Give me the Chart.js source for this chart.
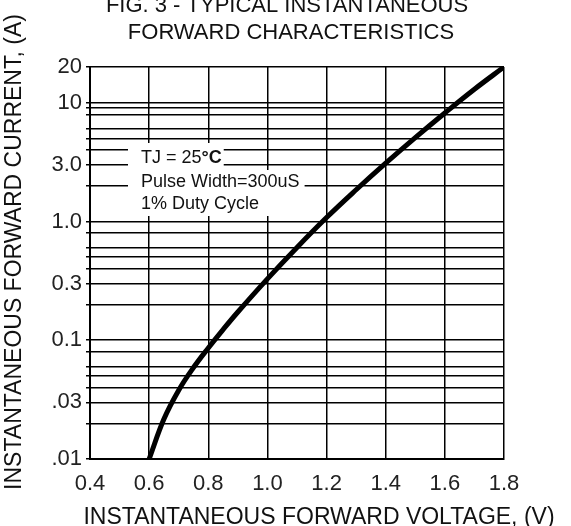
<!DOCTYPE html>
<html>
<head>
<meta charset="utf-8">
<script src="https://cdn.jsdelivr.net/npm/chart.js@4.4.1/dist/chart.umd.min.js"></script>
<style>
  html, body { margin: 0; padding: 0; background: #fff; }
  #wrap { width: 571px; height: 526px; }
</style>
</head>
<body>
<div id="wrap"><canvas id="myChart"></canvas></div>
<script>
// forward voltage (V) vs instantaneous forward current (A)
var voltage = [0.6, 0.65, 0.7, 0.75, 0.8, 0.85, 0.9, 1.0, 1.1, 1.2, 1.3, 1.4, 1.5, 1.6, 1.7, 1.8];
var current = [0.01, 0.0217, 0.038, 0.0589, 0.0861, 0.123, 0.173, 0.329, 0.605, 1.08, 1.85, 3.1, 5.09, 8.2, 13.0, 20];

var xTicks = [0.4, 0.6, 0.8, 1.0, 1.2, 1.4, 1.6, 1.8];
var yGrid = [0.01, 0.02, 0.03, 0.04, 0.05, 0.06, 0.08, 0.1, 0.2, 0.3, 0.4, 0.5, 0.6, 0.8,
             1, 2, 3, 4, 5, 6, 8, 9, 10, 20];
var yLabels = { 0.01: '.01', 0.03: '.03', 0.1: '0.1', 0.3: '0.3', 1: '1.0', 3: '3.0', 10: '10', 20: '20' };

var titleLines = ['FIG. 3 - TYPICAL INSTANTANEOUS', 'FORWARD CHARACTERISTICS'];
var xTitle = 'INSTANTANEOUS FORWARD VOLTAGE, (V)';
var yTitle = 'INSTANTANEOUS FORWARD CURRENT, (A)';
var noteLines = ['TJ = 25', 'Pulse Width=300uS', '1% Duty Cycle'];

var FONT = '"Liberation Sans", Arial, sans-serif';
var ink = '#111';

var points = voltage.map(function(v, i) {
    return { x: v, y: current[i] };
});

// title, note box and axis titles
var extras = {
    id: 'extras',
    beforeDatasetsDraw: function(chart) {
        var ctx = chart.ctx;
        var area = chart.chartArea;
        var x0 = area.left + 51;
        var ys = [area.top + 91, area.top + 115, area.top + 137];
        ctx.save();
        ctx.font = '18px ' + FONT;
        var w1 = ctx.measureText(noteLines[0]).width;
        var w2 = Math.max(ctx.measureText(noteLines[1]).width, ctx.measureText(noteLines[2]).width);
        ctx.font = 'bold 18px ' + FONT;
        var wDeg = ctx.measureText('°C').width;

        ctx.fillStyle = '#fff';
        ctx.fillRect(x0 - 13, ys[0] - 15, w1 + wDeg + 15, 27);
        ctx.fillRect(x0 - 13, ys[0] + 12, w2 + 18, 46);

        ctx.fillStyle = ink;
        ctx.textBaseline = 'middle';
        ctx.textAlign = 'left';
        ctx.font = '18px ' + FONT;
        ctx.fillText(noteLines[0], x0, ys[0]);
        ctx.fillText(noteLines[1], x0, ys[1]);
        ctx.fillText(noteLines[2], x0, ys[2]);
        ctx.font = 'bold 18px ' + FONT;
        ctx.fillText('°C', x0 + w1, ys[0]);
        ctx.restore();
    },
    afterDraw: function(chart) {
        var ctx = chart.ctx;
        ctx.save();
        ctx.fillStyle = ink;
        ctx.textAlign = 'center';
        ctx.textBaseline = 'middle';
        ctx.font = '22px ' + FONT;
        ctx.fillText(titleLines[0], 287, 6);
        ctx.fillText(titleLines[1], 291, 33);
        ctx.font = '23px ' + FONT;
        ctx.fillText(xTitle, 319, chart.height - 8);
        ctx.translate(15, 252);
        ctx.rotate(-Math.PI / 2);
        ctx.fillText(yTitle, 0, 0);
        ctx.restore();
    }
};

var ctx = document.getElementById('myChart').getContext('2d');
var chart = new Chart(ctx, {
    type: 'line',
    data: {
        datasets: [
            {
                label: 'IF',
                data: points,
                borderColor: '#000',
                borderWidth: 5,
                pointRadius: 0,
                fill: false,
                tension: 0.4
            }
        ]
    },
    plugins: [extras],
    options: {
        responsive: true,
        maintainAspectRatio: false,
        animation: false,
        devicePixelRatio: 1,
        layout: {
            padding: { left: 0, right: 67, top: 67, bottom: 0 }
        },
        plugins: {
            legend: { display: false },
            tooltip: { enabled: false },
            title: { display: false }
        },
        scales: {
            x: {
                type: 'linear',
                min: 0.4,
                max: 1.8,
                afterBuildTicks: function(scale) {
                    scale.ticks = xTicks.map(function(v) { return { value: v }; });
                },
                afterFit: function(scale) {
                    scale.height = 67;
                },
                ticks: {
                    autoSkip: false,
                    maxRotation: 0,
                    padding: 12,
                    color: '#222',
                    font: { family: FONT, size: 22 },
                    callback: function(value) {
                        return value.toFixed(1);
                    }
                },
                grid: {
                    color: '#000',
                    lineWidth: 1.5,
                    drawTicks: false
                },
                border: { display: true, color: '#000', width: 2 }
            },
            y: {
                type: 'logarithmic',
                min: 0.01,
                max: 20,
                afterBuildTicks: function(scale) {
                    scale.ticks = yGrid.map(function(v) { return { value: v }; });
                },
                afterFit: function(scale) {
                    scale.width = 90;
                },
                ticks: {
                    autoSkip: false,
                    padding: 4,
                    color: '#222',
                    font: { family: FONT, size: 22 },
                    callback: function(value) {
                        return yLabels[value] || '';
                    }
                },
                grid: {
                    color: '#000',
                    lineWidth: 1.5,
                    tickLength: 4
                },
                border: { display: true, color: '#000', width: 2 }
            }
        }
    }
});
</script>
</body>
</html>
